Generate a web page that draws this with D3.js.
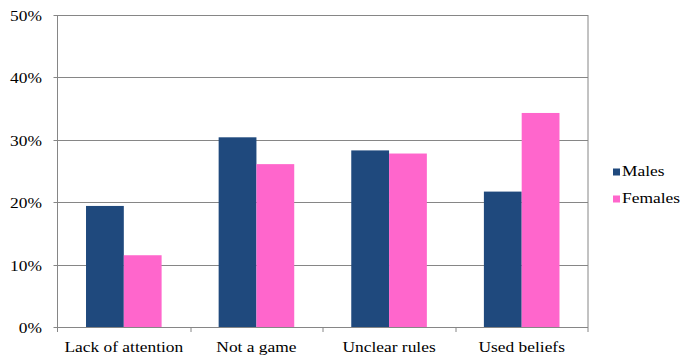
<!DOCTYPE html>
<html>
<head>
<meta charset="utf-8">
<script src="https://cdn.jsdelivr.net/npm/d3@7"></script>
<style>
  body { margin: 0; background: #fff; }
</style>
</head>
<body>
<svg id="chart" width="685" height="356"></svg>
<script>
// data
const categories = ["Lack of attention", "Not a game", "Unclear rules", "Used beliefs"];
const seriesNames = ["Males", "Females"];
const males = [19.4, 30.4, 28.3, 21.7];
const females = [11.5, 26.1, 27.8, 34.3];
const yTicks = [0, 10, 20, 30, 40, 50];
const colors = ["#1F497D", "#FF66CC"];

// the reference text is a little wider than it is tall
const fontFamily = "Liberation Serif";
const fontSize = 15;
const stretch = "scale(1.16, 1)";

const svg = d3.select("#chart");
const margins = {left: 57.5, top: 15, right: 97, bottom: 29};
const chartWidth = 685 - margins.left - margins.right;
const chartHeight = 356 - margins.top - margins.bottom;

const chart = svg.append("g")
                 .attr("transform", `translate(${margins.left}, ${margins.top})`);

// scales
const xScale = d3.scaleBand()
                 .domain(categories)
                 .range([0, chartWidth])
                 .paddingInner(0.43)
                 .paddingOuter(0.215);
const xSub = d3.scaleBand()
               .domain(seriesNames)
               .range([0, xScale.bandwidth()]);
const yScale = d3.scaleLinear()
                 .domain([0, 50])
                 .range([chartHeight, 0]);

// gridlines
chart.append("g")
     .selectAll("line")
     .data(yTicks)
     .join("line")
     .attr("x1", -4)
     .attr("x2", chartWidth)
     .attr("y1", d => Math.round(yScale(d)) + 0.5)
     .attr("y2", d => Math.round(yScale(d)) + 0.5)
     .attr("stroke", "#868686")
     .attr("stroke-width", 1);

// y labels
chart.append("g")
     .selectAll("text")
     .data(yTicks)
     .join("text")
     .attr("transform", d => `translate(-15.5, ${yScale(d) + 6}) ${stretch}`)
     .attr("text-anchor", "end")
     .attr("font-family", fontFamily)
     .attr("font-size", fontSize)
     .attr("fill", "#000")
     .text(d => d + "%");

// bars
const table = categories.map((c, i) => ({cat: c, values: [males[i], females[i]]}));
const groups = chart.selectAll("g.group")
                    .data(table)
                    .join("g")
                    .attr("class", "group")
                    .attr("transform", d => `translate(${xScale(d.cat)}, 0)`);
groups.selectAll("rect")
      .data(d => d.values.map((v, j) => ({name: seriesNames[j], value: v, j: j})))
      .join("rect")
      .attr("x", d => xSub(d.name))
      .attr("y", d => yScale(d.value))
      .attr("width", xSub.bandwidth())
      .attr("height", d => chartHeight - yScale(d.value))
      .attr("fill", d => colors[d.j]);

// axes frame
const step = chartWidth / categories.length;
chart.append("line")
     .attr("x1", 0).attr("x2", 0)
     .attr("y1", 0).attr("y2", chartHeight + 5)
     .attr("stroke", "#868686");
chart.append("line")
     .attr("x1", chartWidth).attr("x2", chartWidth)
     .attr("y1", 0).attr("y2", chartHeight + 5)
     .attr("stroke", "#868686");
chart.append("g")
     .selectAll("line")
     .data(d3.range(1, categories.length))
     .join("line")
     .attr("x1", d => Math.round(d * step) + 0.5)
     .attr("x2", d => Math.round(d * step) + 0.5)
     .attr("y1", chartHeight)
     .attr("y2", chartHeight + 5)
     .attr("stroke", "#868686");

// x labels
chart.append("g")
     .selectAll("text")
     .data(categories)
     .join("text")
     .attr("transform", d => `translate(${xScale(d) + xScale.bandwidth() / 2}, ${chartHeight + 25}) ${stretch}`)
     .attr("text-anchor", "middle")
     .attr("font-family", fontFamily)
     .attr("font-size", fontSize)
     .attr("fill", "#000")
     .text(d => d);

// legend
const legend = svg.append("g")
                  .attr("transform", "translate(613, 168.5)");
seriesNames.forEach((name, i) => {
    legend.append("rect")
          .attr("x", 0)
          .attr("y", i * 27)
          .attr("width", 7)
          .attr("height", 7)
          .attr("fill", colors[i]);
    legend.append("text")
          .attr("transform", `translate(9, ${i * 27 + 7.5}) ${stretch}`)
          .attr("font-family", fontFamily)
          .attr("font-size", fontSize)
          .attr("fill", "#000")
          .text(name);
});
</script>
</body>
</html>
